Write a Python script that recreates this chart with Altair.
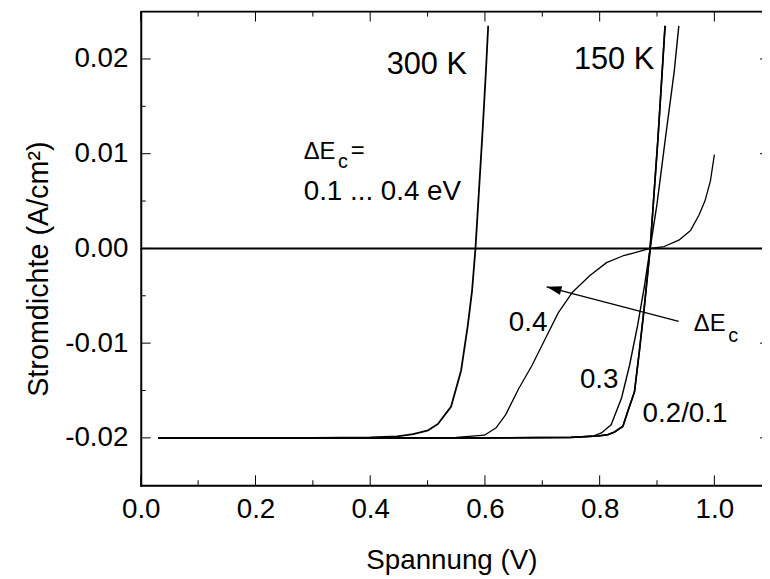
import math
import altair as alt
import pandas as pd

# ---------------- data ----------------
v_300K = [0.03, 0.10, 0.20, 0.30, 0.40, 0.447, 0.475, 0.501, 0.518, 0.541, 0.5585, 0.570, 0.5775, 0.5835, 0.5895, 0.596, 0.6015, 0.6057]
j_300K = [-0.0200, -0.0200, -0.0200, -0.0200, -0.01995, -0.01984, -0.0196, -0.0192, -0.01854, -0.0167, -0.01288, -0.00818, -0.0045, 0.0, 0.0060, 0.0125, 0.0185, 0.0235]

v_150K_01 = [0.03, 0.2, 0.4, 0.6, 0.75, 0.797, 0.8146, 0.826, 0.8405, 0.849, 0.8607, 0.869, 0.878, 0.8866, 0.888, 0.9015, 0.914]
j_150K_01 = [-0.0200, -0.0200, -0.0200, -0.0200, -0.01995, -0.0198, -0.01966, -0.01938, -0.01878, -0.01722, -0.01513, -0.01096, -0.0061, -0.0009, 0.0, 0.0115, 0.0235]

v_150K_02 = [0.03, 0.2, 0.4, 0.6, 0.75, 0.797, 0.8146, 0.826, 0.8405, 0.849, 0.8607, 0.869, 0.878, 0.8866, 0.888, 0.9015, 0.914]
j_150K_02 = [-0.0200, -0.0200, -0.0200, -0.0200, -0.01995, -0.0198, -0.01966, -0.01938, -0.01878, -0.01722, -0.01513, -0.01096, -0.0061, -0.0009, 0.0, 0.0115, 0.0235]

v_150K_03 = [0.03, 0.2, 0.4, 0.6, 0.75, 0.790, 0.803, 0.820, 0.838, 0.852, 0.866, 0.878, 0.888, 0.900, 0.9154, 0.930, 0.938]
j_150K_03 = [-0.0200, -0.0200, -0.0200, -0.0200, -0.01995, -0.0198, -0.01948, -0.01862, -0.01583, -0.01236, -0.00818, -0.0040, 0.0, 0.0047, 0.0120, 0.0187, 0.0235]

v_150K_04 = [0.03, 0.2, 0.4, 0.55, 0.599, 0.619, 0.636, 0.659, 0.682, 0.705, 0.728, 0.753, 0.783, 0.812, 0.840, 0.865, 0.888, 0.9125, 0.938, 0.9585, 0.973, 0.9835, 0.993, 1.0]
j_150K_04 = [-0.0200, -0.0200, -0.0200, -0.01995, -0.01972, -0.01896, -0.01757, -0.01479, -0.01236, -0.00957, -0.00678, -0.0046, -0.00285, -0.0015, -0.0008, -0.0004, 0.0, 0.0002, 0.00087, 0.0019, 0.0035, 0.005, 0.0071, 0.0099]

curve_names = ["300 K", "150 K, 0.1", "150 K, 0.2", "150 K, 0.3", "150 K, 0.4"]

x_major = [0.0, 0.2, 0.4, 0.6, 0.8, 1.0]
x_minor = [0.1, 0.3, 0.5, 0.7, 0.9]
y_major = [-0.02, -0.01, 0.0, 0.01, 0.02]
y_minor = [-0.015, -0.005, 0.005, 0.015]

big_text = ["300 K", "150 K"]
big_v = [0.4287, 0.7551]
big_j = [0.01841, 0.01896]

mid_text = ["0.1 ... 0.4 eV", "0.4", "0.3", "0.2/0.1"]
mid_v = [0.2841, 0.6416, 0.7655, 0.8748]
mid_j = [0.005126, -0.008755, -0.014749, -0.018337]

small_text = ["ΔE", "=", "ΔE"]
small_v = [0.2841, 0.3661, 0.9641]
small_j = [0.009414, 0.009571, -0.008755]

sub_text = ["c", "c"]
sub_v = [0.3437, 1.0242]
sub_j = [0.008473, -0.009833]

arrow_v = [0.9378, 0.7076]
arrow_j = [-0.007709, -0.004048]

# ---------------- layout ----------------
W, H = 627, 478
XMAX = 1.083
YMIN, YMAX = -0.025, 0.025
FONT = "Liberation Sans"
sx = W / XMAX
sy = H / (YMAX - YMIN)

xs = alt.Scale(domain=[0, XMAX], nice=False, zero=False)
ys = alt.Scale(domain=[YMIN, YMAX], nice=False, zero=False)

xaxis = alt.Axis(values=x_major, format=".1f", title="Spannung (V)", ticks=False, tickSize=0,
                 grid=False, domainColor="black", domainWidth=2, domainCap="square",
                 labelFontSize=28, labelPadding=11, labelColor="black", labelFont=FONT,
                 labelFlush=False, labelOverlap=False,
                 titleFontSize=28, titleFontWeight="normal", titleColor="black", titleFont=FONT,
                 titleY=84.5, titleBaseline="alphabetic")
yaxis = alt.Axis(values=y_major, labelExpr="replace(format(datum.value, '.2f'), '\u2212', '-')",
                 title="Stromdichte (A/cm²)", ticks=False, tickSize=0, grid=False,
                 domainColor="black", domainWidth=2, domainCap="square",
                 labelFontSize=28, labelPadding=13, labelColor="black", labelFont=FONT,
                 labelFlush=False, labelOverlap=False,
                 titleFontSize=29, titleFontWeight="normal", titleColor="black", titleFont=FONT,
                 titleX=-94, titleY=259.4, titleBaseline="alphabetic", titleAngle=270)


def X(field="V"):
    return alt.X(f"{field}:Q", scale=xs, axis=xaxis)


def Y(field="J"):
    return alt.Y(f"{field}:Q", scale=ys, axis=yaxis)


rows = []
for name, vv, jj in zip(curve_names,
                        [v_300K, v_150K_01, v_150K_02, v_150K_03, v_150K_04],
                        [j_300K, j_150K_01, j_150K_02, j_150K_03, j_150K_04]):
    for i, (a, b) in enumerate(zip(vv, jj)):
        rows.append({"V": a, "J": b, "curve": name, "idx": i})
curves = pd.DataFrame(rows)

lines = alt.Chart(curves).mark_line(color="black", strokeJoin="round").encode(
    x=X(), y=Y(), detail="curve:N", order="idx:Q",
    strokeWidth=alt.StrokeWidth("curve:N", scale=alt.Scale(domain=curve_names, range=[1.8, 1.3, 1.3, 1.3, 1.3]), legend=None),
)

zero_line = alt.Chart(pd.DataFrame({"J": [0.0]})).mark_rule(color="black", strokeWidth=2).encode(y=Y())

top_frame = alt.Chart(pd.DataFrame({"J": [YMAX]})).mark_rule(color="black", strokeWidth=2).encode(
    y=Y(), x=alt.value(0), x2=alt.value(W + 2))

ymaj = pd.DataFrame({"J": y_major})
ymin_df = pd.DataFrame({"J": y_minor})
xmaj = pd.DataFrame({"V": x_major})
xmin_df = pd.DataFrame({"V": x_minor})

tk = dict(color="black", strokeWidth=1)
left_major = alt.Chart(ymaj).mark_rule(**tk).encode(y=Y(), x=alt.value(0), x2=alt.value(10))
left_minor = alt.Chart(ymin_df).mark_rule(**tk).encode(y=Y(), x=alt.value(0), x2=alt.value(5))
right_major = alt.Chart(ymaj).mark_rule(**tk).encode(y=Y(), x=alt.value(W - 2), x2=alt.value(W + 2))
bot_major = alt.Chart(xmaj).mark_rule(**tk).encode(x=X(), y=alt.value(H), y2=alt.value(H - 10))
bot_minor = alt.Chart(xmin_df).mark_rule(**tk).encode(x=X(), y=alt.value(H), y2=alt.value(H - 5))
top_major = alt.Chart(xmaj).mark_rule(**tk).encode(x=X(), y=alt.value(0), y2=alt.value(10))
top_minor = alt.Chart(xmin_df).mark_rule(**tk).encode(x=X(), y=alt.value(0), y2=alt.value(5))


def texts(t, v, j, size):
    df = pd.DataFrame({"t": t, "V": v, "J": j})
    return alt.Chart(df).mark_text(align="left", baseline="alphabetic", fontSize=size, font=FONT,
                                   color="black").encode(x=X(), y=Y(), text="t:N")


t_big = texts(big_text, big_v, big_j, 31)
t_mid = texts(mid_text, mid_v, mid_j, 28)
t_small = texts(small_text, small_v, small_j, 24)
t_sub = texts(sub_text, sub_v, sub_j, 20)

arrow_df = pd.DataFrame({"V": arrow_v, "J": arrow_j, "idx": [0, 1]})
arrow_line = alt.Chart(arrow_df).mark_line(color="black", strokeWidth=1.3).encode(x=X(), y=Y(), order="idx:Q")
dx = (arrow_v[1] - arrow_v[0]) * sx
dy = -(arrow_j[1] - arrow_j[0]) * sy
ang = math.degrees(math.atan2(dx, -dy)) % 360
head = alt.Chart(arrow_df.iloc[[1]]).mark_point(
    shape="M0,0 L-0.6,2 L0.6,2 Z", filled=True, color="black", opacity=1, size=225, angle=ang,
    strokeWidth=0).encode(x=X(), y=Y())

chart = alt.layer(
    zero_line, lines, arrow_line, head, top_frame,
    left_major, left_minor, right_major, bot_major, bot_minor, top_major, top_minor,
    t_big, t_mid, t_small, t_sub,
).properties(
    width=W, height=H,
    padding={"left": 134, "top": 1, "right": 0, "bottom": 92},
    autosize=alt.AutoSizeParams(type="none"),
).configure_view(stroke=None).configure(background="white")

chart.save("out.html", embed_options={"renderer": "svg", "actions": False})
